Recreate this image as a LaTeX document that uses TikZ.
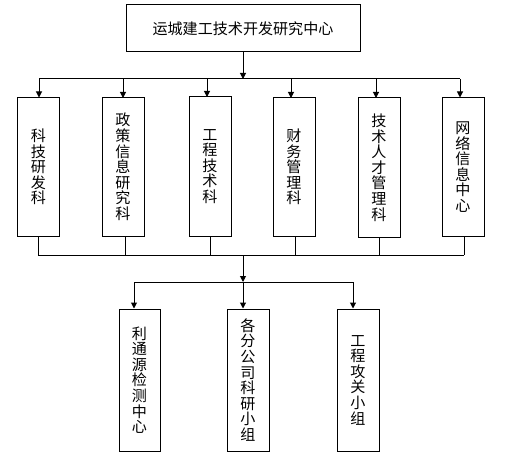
\documentclass[tikz,border=0pt]{standalone}
\usepackage{fontspec}
\newfontfamily\cjk{Noto Sans CJK SC}
\usetikzlibrary{arrows.meta}
\begin{document}
\begin{tikzpicture}[x=0.75pt,y=-0.75pt,
  line width=0.75pt,
  box/.style={draw, line width=0.75pt, inner sep=0pt, font=\cjk\fontsize{11.3}{11.7}\selectfont},
  vbox/.style={box, align=center},
  arr/.style={-{Triangle[width=4.5pt,length=4.5pt]}},
  ln/.style={}]
\useasboundingbox (0,0) rectangle (524,463);
% top box
\node[box, minimum width=234*0.75pt, minimum height=47*0.75pt] (top) at (243,28.5) {运城建工技术开发研究中心};
% second row
\node[vbox, minimum width=42*0.75pt, minimum height=138*0.75pt] (b1) at (38.5,167) {科\\技\\研\\发\\科};
\node[vbox, minimum width=42*0.75pt, minimum height=138*0.75pt] (b2) at (123,167) {政\\策\\信\\息\\研\\究\\科};
\node[vbox, minimum width=42*0.75pt, minimum height=139*0.75pt] (b3) at (210,166.5) {工\\程\\技\\术\\科};
\node[vbox, minimum width=42*0.75pt, minimum height=138*0.75pt] (b4) at (294,167) {财\\务\\管\\理\\科};
\node[vbox, minimum width=42*0.75pt, minimum height=139*0.75pt] (b5) at (379,167.5) {技\\术\\人\\才\\管\\理\\科};
\node[vbox, minimum width=42*0.75pt, minimum height=138*0.75pt] (b6) at (463,167) {网\\络\\信\\息\\中\\心};
% third row
\node[vbox, minimum width=41*0.75pt, minimum height=142*0.75pt] (c1) at (139.5,380) {利\\通\\源\\检\\测\\中\\心};
\node[vbox, minimum width=42*0.75pt, minimum height=142*0.75pt] (c2) at (248,380) {各\\分\\公\\司\\科\\研\\小\\组};
\node[vbox, minimum width=42*0.75pt, minimum height=142*0.75pt] (c3) at (358,380) {工\\程\\攻\\关\\小\\组};
% bus coordinates
\coordinate (bus1) at (243,79);
\coordinate (bus1L) at (39,79);
\coordinate (bus1R) at (460,79);
\coordinate (bus2) at (243,255);
\coordinate (bus3) at (243,282);
\coordinate (bus3L) at (134,282);
\coordinate (bus3R) at (353,282);
% top to bus
\draw[arr] (top.south) -- (bus1);
\draw (bus1L) -- (bus1R);
\draw[arr] (bus1L) -- (bus1L |- b1.north);
\draw[arr] (123,79) -- (123,98);
\draw[arr] (207,79) -- (207,97);
\draw[arr] (291,79) -- (291,98);
\draw[arr] (376,79) -- (376,98);
\draw[arr] (bus1R) -- (bus1R |- b6.north);
% boxes to lower bus
\draw (b1.south -| 38,0) -- (38,255);
\draw (b2.south -| 125,0) -- (125,255);
\draw (b3.south) -- (210,255);
\draw (b4.south -| 295,0) -- (295,255);
\draw (b5.south) -- (379,255);
\draw (b6.south -| 464,0) -- (464,255);
\draw (38,255) -- (464,255);
% to third bus
\draw[arr] (bus2) -- (bus3);
\draw (bus3L) -- (bus3R);
\draw[arr] (bus3L) -- (bus3L |- c1.north);
\draw[arr] (bus3) -- (bus3 |- c2.north);
\draw[arr] (bus3R) -- (bus3R |- c3.north);
\end{tikzpicture}
\end{document}
